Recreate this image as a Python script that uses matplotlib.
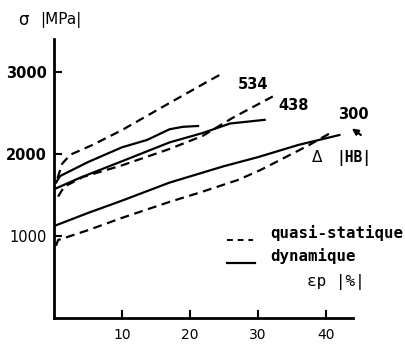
import matplotlib
matplotlib.use("Agg")
from matplotlib import pyplot as plt

# hardness series (HB): quasi-static (dashed) and dynamic (solid), strain % vs stress MPa
x_534_qs = [0.5, 1.2, 2.4, 5.7, 10, 17, 23, 25]
y_534_qs = [1700, 1880, 1990, 2110, 2290, 2620, 2900, 2990]
x_534_dyn = [0.3, 0.9, 5, 10, 13.7, 17, 19, 21.2]
y_534_dyn = [1650, 1730, 1900, 2080, 2170, 2300, 2330, 2340]

x_438_qs = [0.6, 1.5, 4.3, 10, 17, 21.9, 26.3, 32.2]
y_438_qs = [1480, 1600, 1720, 1860, 2060, 2220, 2440, 2700]
x_438_dyn = [0.3, 4, 10, 17, 21.9, 25.9, 31]
y_438_dyn = [1580, 1715, 1910, 2140, 2255, 2370, 2415]

x_300_qs = [0.3, 0.6, 5, 10, 17, 21.5, 27, 30.3, 36.2, 37.6, 41]
y_300_qs = [880, 950, 1070, 1220, 1415, 1530, 1680, 1800, 2050, 2110, 2270]
x_300_dyn = [0.3, 5, 10, 17, 25, 30, 36, 42]
y_300_dyn = [1130, 1280, 1430, 1650, 1850, 1960, 2110, 2230]

x_ticks = [10, 20, 30, 40]
y_ticks = [1000, 2000, 3000]

FONT = "DejaVu Sans"
MONO = "DejaVu Sans Mono"

fig = plt.figure(figsize=(4.05, 3.44), dpi=100)
ax = fig.add_axes([54 / 405, 26 / 344, 299 / 405, 279 / 344])
ax.set_xlim(0, 44)
ax.set_ylim(0, 3400)

lw = 1.6
dash = (4, 2.5)
for xs, ys in [(x_534_qs, y_534_qs), (x_438_qs, y_438_qs), (x_300_qs, y_300_qs)]:
    ax.plot(xs, ys, color="black", lw=lw, ls="--", dashes=dash)
for xs, ys in [(x_534_dyn, y_534_dyn), (x_438_dyn, y_438_dyn), (x_300_dyn, y_300_dyn)]:
    ax.plot(xs, ys, color="black", lw=lw)

for s in ["top", "right"]:
    ax.spines[s].set_visible(False)
for s in ["left", "bottom"]:
    ax.spines[s].set_linewidth(2)

ax.set_xticks(x_ticks)
ax.set_yticks(y_ticks)
ax.tick_params(direction="in", length=6, width=1.5)
ax.tick_params(axis="x", pad=7)
ax.tick_params(axis="y", pad=5)
for lab in ax.get_xticklabels():
    lab.set_fontfamily(FONT)
    lab.set_fontsize(10)
for lab in ax.get_yticklabels():
    lab.set_fontfamily(FONT)
    lab.set_fontsize(10.5)
    if lab.get_text() != "1000":
        lab.set_fontweight("bold")

# curve labels
ax.text(29.3, 2850, "534", fontsize=10.5, fontweight="bold", ha="center", va="center")
ax.text(35.3, 2590, "438", fontsize=10.5, fontweight="bold", ha="center", va="center")
ax.text(44.0, 2480, "300", fontsize=10.5, fontweight="bold", ha="center", va="center",
        clip_on=False)
ax.annotate("", xy=(43.5, 2330), xytext=(45.5, 2210),
            arrowprops=dict(arrowstyle="-|>", color="black", lw=1.5, mutation_scale=9),
            annotation_clip=False)
ax.text(38.7, 1950, "Δ", fontsize=11, ha="center", va="center")
ax.text(44.2, 1950, "|HB|", fontsize=10.5, fontfamily=MONO, fontweight="bold",
        ha="center", va="center", clip_on=False)

# legend drawn by hand
ax.plot([25.4, 29.3], [950, 950], color="black", lw=1.4, ls="--", dashes=(3, 2.5))
ax.plot([25.4, 29.6], [670, 670], color="black", lw=1.6)
ax.text(31.8, 1040, "quasi-statique", fontsize=11.3, fontfamily=MONO,
        fontweight="bold", va="center", clip_on=False)
ax.text(31.8, 760, "dynamique", fontsize=11.3, fontfamily=MONO,
        fontweight="bold", va="center")
ax.text(37.2, 440, "εp |%|", fontsize=11.5, fontfamily=MONO, va="center")

# y axis title
fig.text(18 / 405, 1 - 20 / 344, "σ", fontsize=12, fontfamily=FONT,
         va="center", ha="left")
fig.text(40 / 405, 1 - 20 / 344, "|MPa|", fontsize=11, fontfamily=FONT,
         va="center", ha="left")

fig.savefig("out.png", dpi=100)
